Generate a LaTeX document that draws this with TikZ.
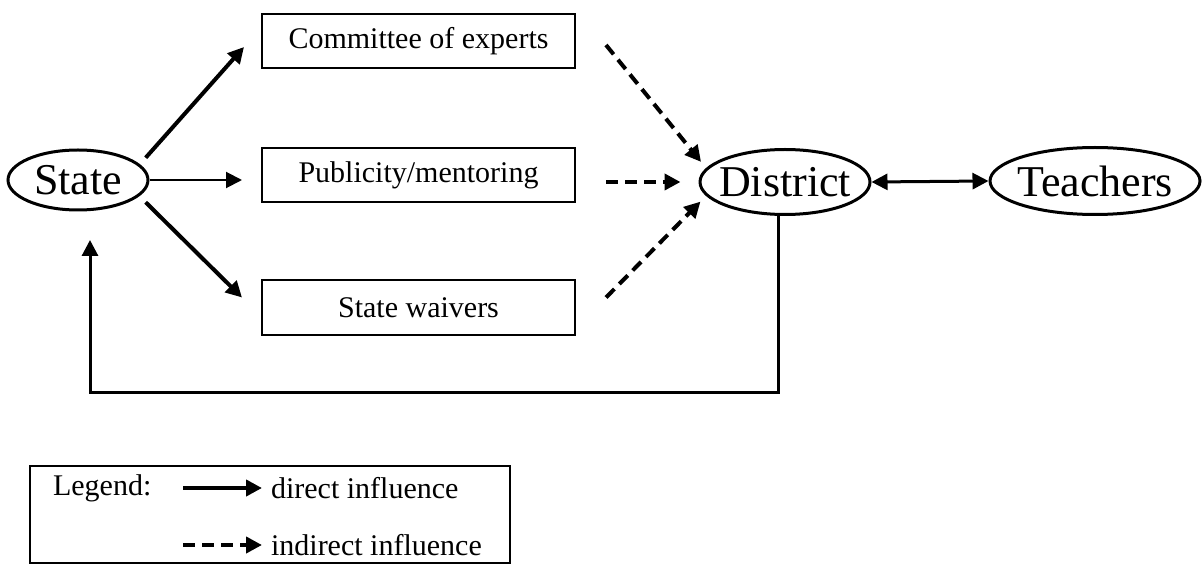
\documentclass[tikz,border=0pt]{standalone}
\usepackage{fontspec}
\setmainfont{Liberation Serif}
\usetikzlibrary{shapes.geometric, arrows.meta, positioning}

\begin{document}
\begin{tikzpicture}[
    x=0.5pt, y=-0.5pt,
    actor/.style={ellipse, draw=black, line width=1.5pt, inner xsep=-5pt, inner ysep=-4pt, font=\fontsize{22}{24}\selectfont},
    agency/.style={rectangle, draw=black, line width=1pt, minimum width=156.5pt, minimum height=27pt, font=\fontsize{15}{17}\selectfont},
    direct/.style={-{Triangle[width=8pt,length=8pt]}, line width=1pt},
    strong/.style={direct, line width=2pt},
    indirect/.style={-{Triangle[width=8pt,length=8pt]}, line width=2pt, dash pattern=on 6pt off 3.5pt},
    legend text/.style={anchor=west, font=\fontsize{15}{17}\selectfont}
]
\useasboundingbox (0,0) rectangle (1202,566);

% Akteure
\node[actor, minimum width=70pt, minimum height=30pt] (state) at (78,180) {State};
\node[actor, minimum width=85pt, minimum height=32.5pt] (district) at (785,182) {District};
\node[actor, minimum width=105pt, minimum height=33.5pt] (teachers) at (1095,181) {Teachers};

% Instrumente
\node[agency] (committee) at (418.5,41) {Committee of experts};
\node[agency] (publicity) at (418.5,175.5) {Publicity/mentoring};
\node[agency] (waivers) at (418.5,307.5) {State waivers};

% Pijlen
\draw[strong] ([shift={(15,-1)}]state.22) -- ([shift={(-17,6)}]committee.west);
\draw[direct] (state.east) -- ([shift={(-19,0)}]publicity.west |- state.east);
\draw[strong] ([shift={(15,1)}]state.-22) -- ([shift={(-19,-10)}]waivers.west);

\draw[indirect, shorten >=4pt] ([shift={(30,4)}]committee.east) -- (district.170);
\draw[indirect] ([shift={(30,0)}]publicity.east |- district.180) -- ([shift={(-18,0)}]district.180);
\draw[indirect, shorten >=4pt] ([shift={(30,-10)}]waivers.east) -- (district.-170);

\draw[{Triangle[width=8pt,length=8pt]}-{Triangle[width=8pt,length=8pt]}, line width=1.5pt] (district.east) -- (teachers.west);

% Terugkoppeling
\coordinate (loopR) at (778,392);
\coordinate (loopL) at (90,392);
\coordinate (loopEnd) at (90,240);
\draw[direct, line width=1.5pt] (district.south -| loopR) -- (loopR) -- (loopL) -- (loopEnd);

% Legende
\node[draw, line width=1pt, minimum width=240pt, minimum height=48.5pt] (legend) at (270,514.5) {};
\node[legend text] (legendtitle) at (46,488) {Legend:};
\coordinate (directA) at (183,488);
\coordinate (directB) at (262,488);
\coordinate (indirectA) at (183,545);
\coordinate (indirectB) at (262,545);
\draw[strong] (directA) -- (directB);
\draw[indirect] (indirectA) -- (indirectB);
\node[legend text] (directlabel) at (264,488) {direct influence};
\node[legend text] (indirectlabel) at (264,545) {indirect influence};

\end{tikzpicture}
\end{document}
